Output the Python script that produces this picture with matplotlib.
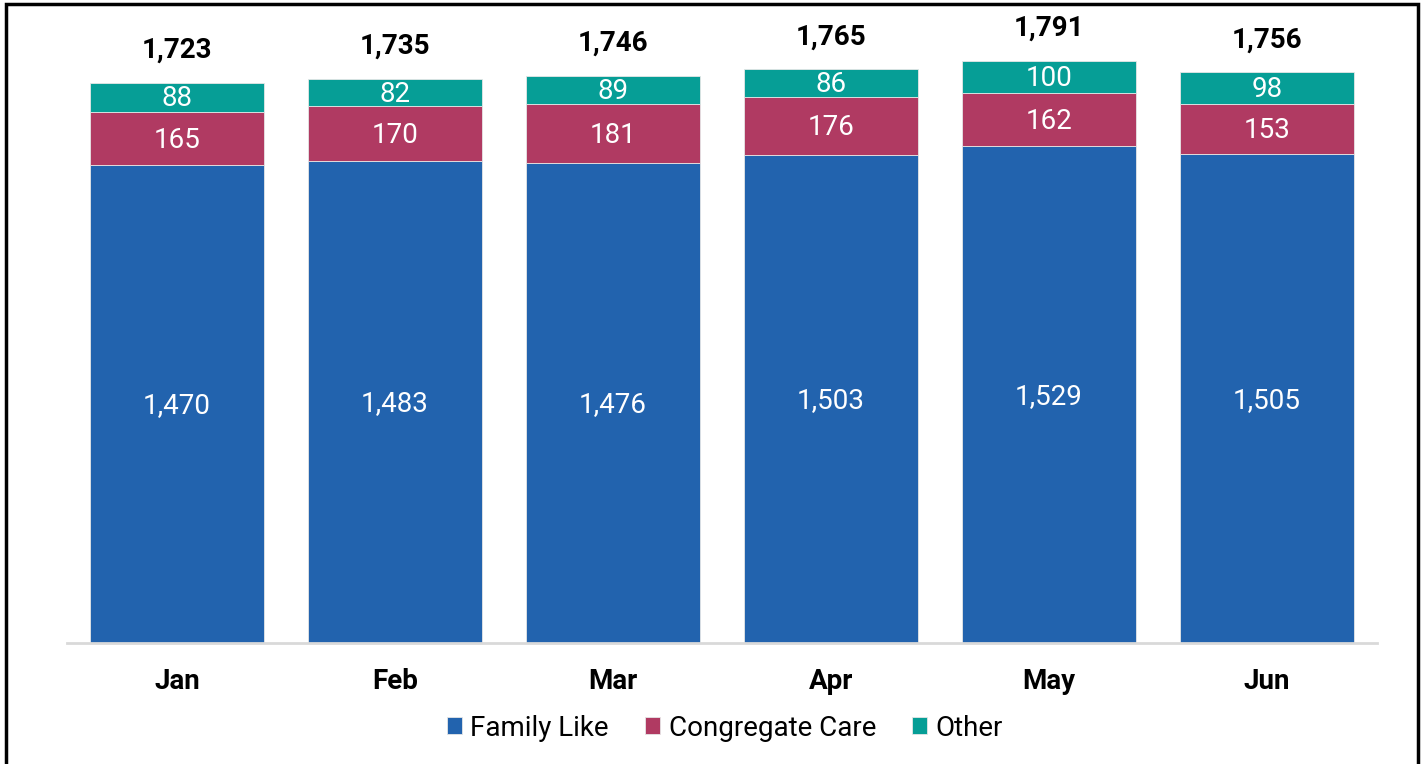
import numpy as np
import matplotlib
matplotlib.use("Agg")
import matplotlib.pyplot as plt
from matplotlib.patches import Rectangle

plt.rcParams['font.family'] = ['Roboto', 'DejaVu Sans']

# datos
meses = ["Jan", "Feb", "Mar", "Apr", "May", "Jun"]
family_like = [1470, 1483, 1476, 1503, 1529, 1505]
congregate = [165, 170, 181, 176, 162, 153]
other = [88, 82, 89, 86, 100, 98]
series_names = ["Family Like", "Congregate Care", "Other"]
colores = ["#2263AE", "#B03A62", "#069E96"]

W, H = 1426, 764
fig = plt.figure(figsize=(W / 100, H / 100), dpi=100)
# ejes: base en y=643 px, 0.325 px por unidad
y_top = 1900
ax = fig.add_axes([67 / W, (H - 643) / H, (1377 - 67) / W, y_top * 0.325 / H])

x = np.arange(len(meses))
fondo = np.zeros(len(meses))
for vals, nombre, col in zip([family_like, congregate, other], series_names, colores):
    vals = np.array(vals)
    barras = ax.bar(x, vals, 0.8, bottom=fondo, color=col, label=nombre,
                    edgecolor="#e6e6e6", linewidth=0.6)
    for xi, b, v in zip(x, fondo, vals):
        ax.text(xi, b + v / 2 - 5, f"{v:,}", ha="center", va="center",
                color="white", fontsize=20)
    fondo = fondo + vals

for xi, t in zip(x, fondo):
    ax.text(xi, t + 100, f"{int(t):,}", ha="center", va="center",
            fontsize=20, fontweight="bold", color="black")

ax.set_xlim(-0.505, 5.505)
ax.set_ylim(0, y_top)
ax.set_yticks([])
ax.set_xticks(x)
ax.set_xticklabels(meses, fontsize=20, fontweight="bold")
ax.tick_params(axis="x", length=0, pad=18)
for s in ["top", "right", "left"]:
    ax.spines[s].set_visible(False)
ax.spines["bottom"].set_color("#d9d9d9")
ax.spines["bottom"].set_linewidth(2)

fig.legend(loc="center", bbox_to_anchor=(725 / W, (H - 728) / H), ncol=3,
           frameon=False, fontsize=20, handlelength=0.55, handleheight=0.55,
           handletextpad=0.3, columnspacing=1.3)

# marco
fig.patches.append(Rectangle((6 / W, -0.02), (1418 - 6) / W, (H - 4) / H + 0.02,
                             transform=fig.transFigure, fill=False,
                             edgecolor="black", linewidth=2.5))

fig.savefig("out.png", dpi=100)
